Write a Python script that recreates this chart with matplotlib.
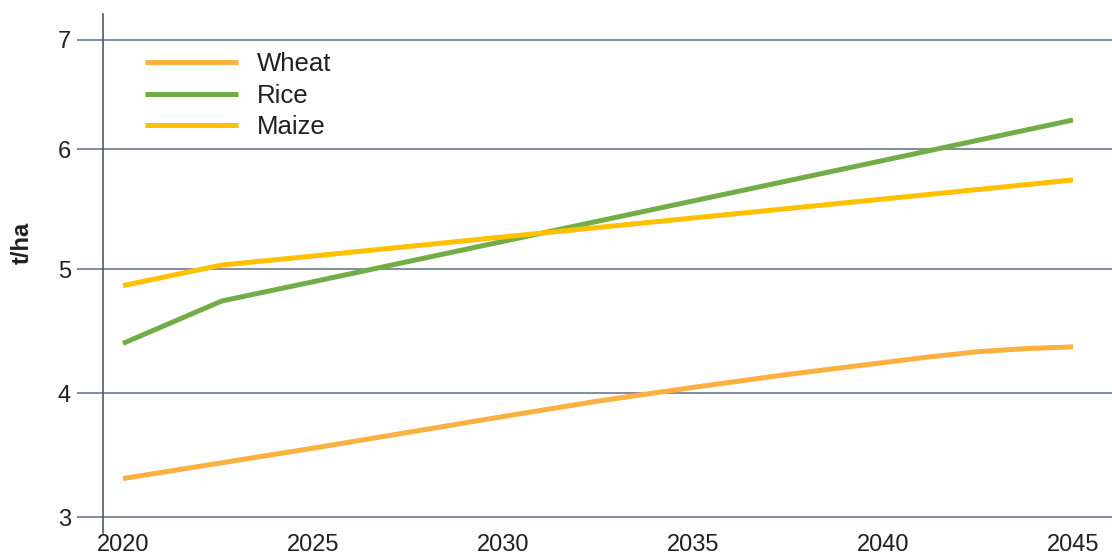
import numpy as np
import matplotlib
matplotlib.use("Agg")
import matplotlib.pyplot as plt

# values (t/ha)
years_wheat = [2020, 2025, 2030, 2032.5, 2035, 2037.5, 2040, 2041.25, 2042.5, 2043.75, 2045]
wheat = [3.31, 3.555, 3.81, 3.935, 4.045, 4.15, 4.245, 4.292, 4.333, 4.358, 4.372]

years_rice = [2020, 2022.6, 2025, 2030, 2035, 2040, 2045]
rice = [4.40, 4.742, 4.897, 5.23, 5.567, 5.904, 6.266]

years_maize = [2020, 2022.6, 2025, 2030, 2035, 2040, 2045]
maize = [4.866, 5.033, 5.108, 5.267, 5.425, 5.583, 5.742]

x_ticks = [2020, 2025, 2030, 2035, 2040, 2045]
y_ticks = [3, 4, 5, 6, 7]

# the original chart spaces its gridlines unevenly
scale_v = [2, 3, 4, 5, 6, 7, 8]
scale_p = [-124, 0, 124, 248, 368, 477, 586]


def fwd(v):
    return np.interp(v, scale_v, scale_p)


def inv(p):
    return np.interp(p, scale_p, scale_v)


plt.rcParams['font.family'] = ['Liberation Sans', 'DejaVu Sans']
txt = '#231f20'
grid_c = '#7a8496'

fig = plt.figure(figsize=(11.12, 5.56), dpi=100)
ax = fig.add_axes([103 / 1112, 23 / 556, 1 - 103 / 1112, (533 - 14) / 556])
ax.set_yscale('function', functions=(fwd, inv))

ax.plot(years_wheat, wheat, color='#fbb040', lw=3.6, label='Wheat', solid_capstyle='butt')
ax.plot(years_rice, rice, color='#72ad47', lw=3.6, label='Rice', solid_capstyle='butt')
ax.plot(years_maize, maize, color='#ffc000', lw=3.6, label='Maize', solid_capstyle='butt')

ax.set_xlim(2020 - 20 / 38, 2045 + 39 / 38)
ax.set_ylim(3 - 16 / 124, 7 + 26 / 109)
ax.set_xticks(x_ticks)
ax.set_yticks(y_ticks)
ax.yaxis.set_minor_locator(matplotlib.ticker.NullLocator())
ax.set_xticklabels([str(x) for x in x_ticks])
ax.set_yticklabels([str(y) for y in y_ticks])

for y in y_ticks:
    ax.axhline(y, color=grid_c, lw=1.3, zorder=0)

for s in ['top', 'right', 'bottom']:
    ax.spines[s].set_visible(False)
ax.spines['left'].set_color('#4d5873')
ax.spines['left'].set_linewidth(1.2)

ax.tick_params(axis='y', length=19, width=1.3, color=grid_c, pad=4, labelsize=17, labelcolor=txt)
ax.tick_params(axis='x', length=0, pad=1, labelsize=17, labelcolor=txt)

fig.text(22 / 1112, 1 - 243 / 556, 't/ha', rotation=90, fontsize=17, fontweight='bold',
         color=txt, ha='center', va='center')

leg = ax.legend(loc='upper left', bbox_to_anchor=(42 / 1009, (533 - 52) / 519), frameon=False,
                fontsize=18.5, handlelength=3.6, handletextpad=0.75, labelspacing=0.3,
                borderpad=0, borderaxespad=0)
for t in leg.get_texts():
    t.set_color(txt)

fig.savefig('out.png', dpi=100)
